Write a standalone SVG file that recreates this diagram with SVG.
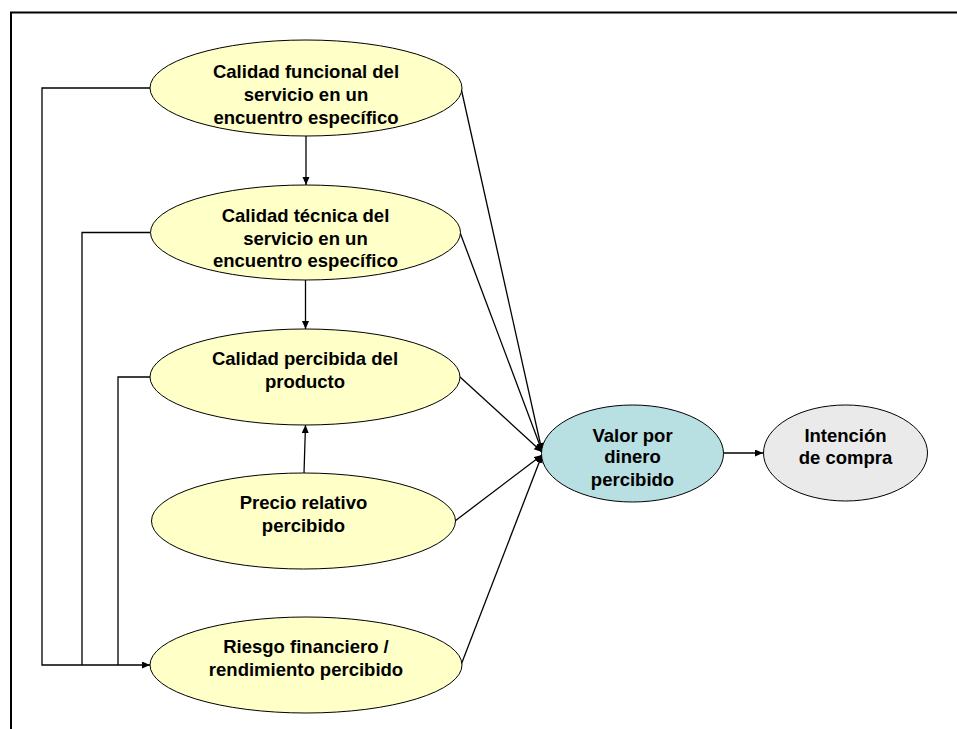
<svg xmlns="http://www.w3.org/2000/svg" width="957" height="729" viewBox="0 0 957 729">
  <defs>
    <marker id="arrow" markerUnits="userSpaceOnUse" markerWidth="9" markerHeight="8" refX="8" refY="3.5" orient="auto">
      <path d="M0,0 L8,3.5 L0,7 z" fill="#000"/>
    </marker>
    <style>
      .node ellipse { stroke: #000; stroke-width: 1; }
      .factor ellipse { fill: #FFFFC8; }
      .value ellipse { fill: #B8DFE1; }
      .intent ellipse { fill: #EAEAEA; }
      .node text { font-family: "Liberation Sans", Arial, sans-serif; font-weight: bold; font-size: 18.5px; text-anchor: middle; fill: #000; }
      .edge { fill: none; stroke: #000; stroke-width: 1.3; }
      .arrowed { marker-end: url(#arrow); }
    </style>
  </defs>

  <rect width="957" height="729" fill="#fff"/>
  <!-- frame -->
  <path d="M11,729 V12.5 H957" fill="none" stroke="#000" stroke-width="2"/>

  <!-- connectors -->
  <g id="connectors">
    <path class="edge arrowed" d="M150,88 H42 V665 H150"/>
    <path class="edge" d="M150,232.5 H82 V665"/>
    <path class="edge" d="M150,377 H118 V665"/>
    <path class="edge arrowed" d="M306,136 V185"/>
    <path class="edge arrowed" d="M305.5,280 V329"/>
    <path class="edge arrowed" d="M304,473 L305.5,425"/>
    <path class="edge arrowed" d="M461,88 L542,451"/>
    <path class="edge arrowed" d="M460,232.5 L542,451"/>
    <path class="edge arrowed" d="M460,377 L542,452"/>
    <path class="edge arrowed" d="M455,521 L542,455"/>
    <path class="edge arrowed" d="M461,665 L542,455"/>
    <path class="edge arrowed" d="M723.5,453 H763"/>
  </g>

  <g id="calidad-funcional" class="node factor">
    <ellipse cx="306" cy="88" rx="156" ry="48"/>
    <text x="306" y="78">Calidad funcional del</text>
    <text x="306" y="101">servicio en un</text>
    <text x="306" y="123.5">encuentro específico</text>
  </g>

  <g id="calidad-tecnica" class="node factor">
    <ellipse cx="305.5" cy="232.5" rx="155" ry="47.5"/>
    <text x="305.5" y="221.5">Calidad técnica del</text>
    <text x="305.5" y="244.5">servicio en un</text>
    <text x="305.5" y="267">encuentro específico</text>
  </g>

  <g id="calidad-producto" class="node factor">
    <ellipse cx="305" cy="377" rx="155" ry="48"/>
    <text x="305" y="365">Calidad percibida del</text>
    <text x="305" y="387.5">producto</text>
  </g>

  <g id="precio" class="node factor">
    <ellipse cx="303.5" cy="521" rx="152" ry="48"/>
    <text x="303.5" y="509">Precio relativo</text>
    <text x="303.5" y="531.5">percibido</text>
  </g>

  <g id="riesgo" class="node factor">
    <ellipse cx="306" cy="665" rx="156" ry="48"/>
    <text x="306" y="653">Riesgo financiero /</text>
    <text x="306" y="675.5">rendimiento percibido</text>
  </g>

  <g id="valor" class="node value">
    <ellipse cx="632.5" cy="453.5" rx="91" ry="48.5"/>
    <text x="632.5" y="441.5">Valor por</text>
    <text x="632.5" y="463">dinero</text>
    <text x="632.5" y="486">percibido</text>
  </g>

  <g id="intencion" class="node intent">
    <ellipse cx="845.5" cy="453" rx="82" ry="48"/>
    <text x="845.5" y="441.5">Intención</text>
    <text x="845.5" y="463.5">de compra</text>
  </g>
</svg>
